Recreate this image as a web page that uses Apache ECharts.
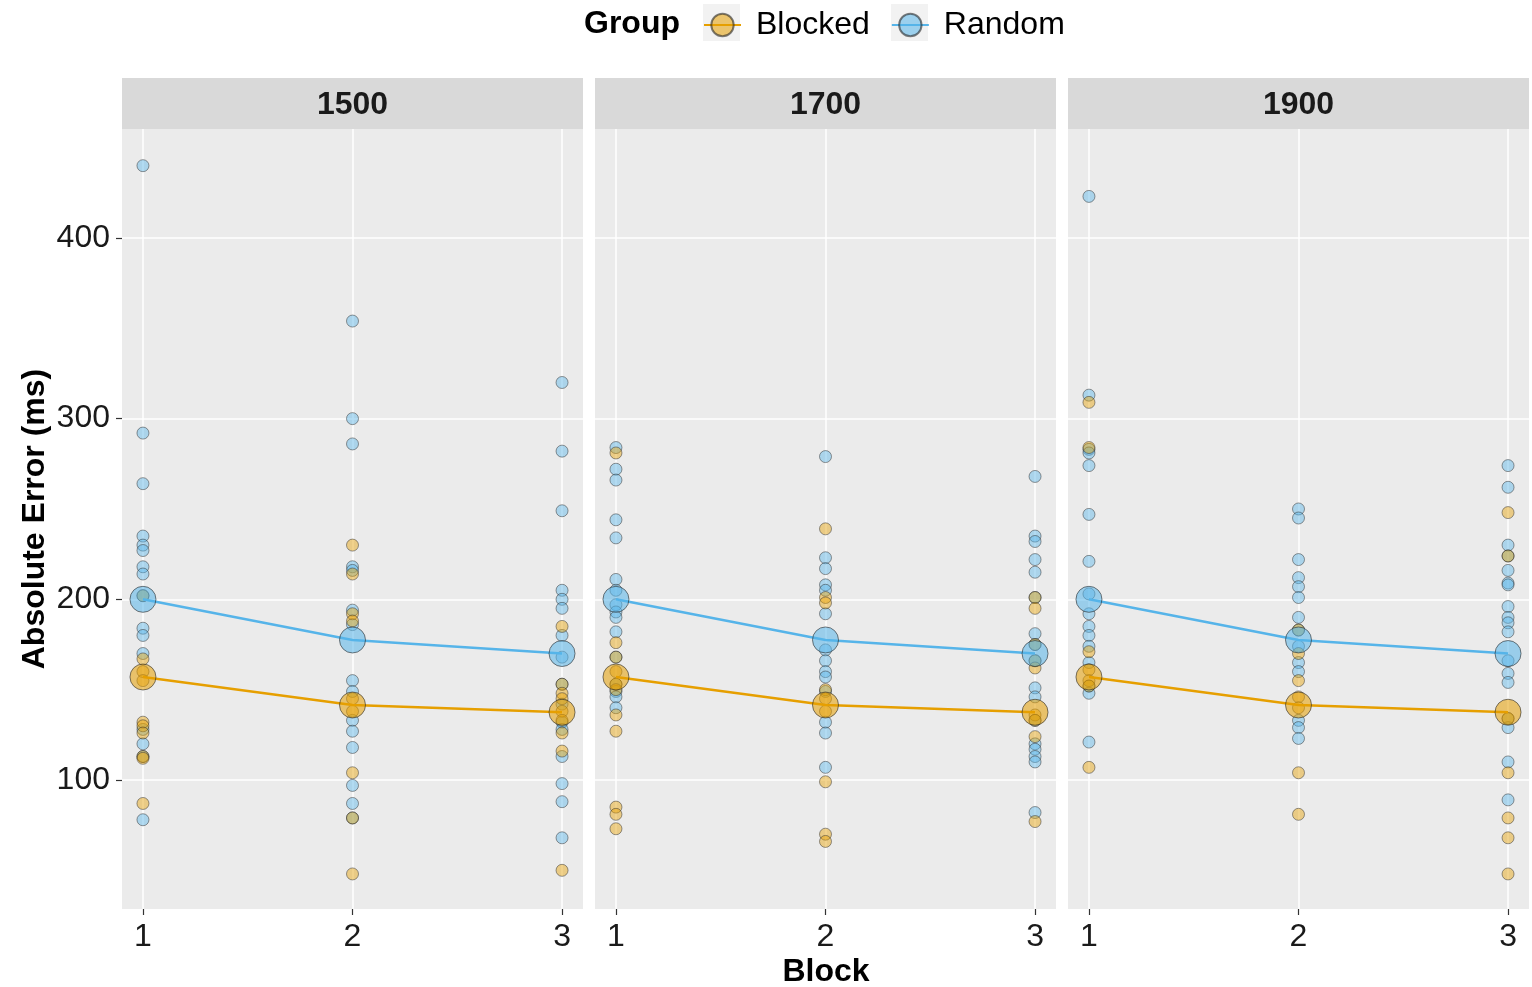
<!DOCTYPE html>
<html>
<head>
<meta charset="utf-8">
<script src="https://cdn.jsdelivr.net/npm/echarts@6/dist/echarts.min.js"></script>
<style>
html,body{margin:0;padding:0;background:#fff;}
#chart{width:1532px;height:987px;}
</style>
</head>
<body>
<div id="chart"></div>
<script>
// ---------- data ----------
const speeds = ['1500', '1700', '1900'];
const blocks = [1, 2, 3];
const yTicks = [100, 200, 300, 400];
const xTicks = [1, 2, 3];
const groups = ['Blocked', 'Random'];

// group means per block (same in each panel)
const meanBlocked = [157, 141.5, 137.5];
const meanRandom = [200, 177.5, 170];

// individual participant values: [block1, block2, block3]
const random1500 = [
  [440, 292, 264, 235, 230, 227, 218, 214, 202, 184, 180, 170, 128, 120, 113, 78],
  [354, 300, 286, 218, 216, 194, 186, 155, 149, 133, 127, 118, 97, 87, 79],
  [320, 282, 249, 205, 200, 195, 180, 168, 153, 142, 132, 128, 113, 98, 88, 68]
];
const blocked1500 = [
  [202, 167, 160, 155, 132, 130, 126, 113, 112, 87],
  [230, 214, 192, 188, 145, 138, 104, 79, 48],
  [185, 153, 148, 145, 138, 133, 126, 116, 50]
];
const random1700 = [
  [284, 272, 266, 244, 234, 211, 205, 197, 193, 190, 182, 168, 153, 149, 146, 140],
  [279, 223, 217, 208, 205, 192, 172, 166, 160, 157, 149, 132, 126, 107],
  [268, 235, 232, 222, 215, 201, 181, 175, 166, 151, 146, 133, 120, 117, 113, 110, 82]
];
const blocked1700 = [
  [281, 176, 168, 160, 153, 150, 136, 127, 85, 81, 73],
  [239, 201, 198, 150, 145, 138, 99, 70, 66],
  [201, 195, 175, 166, 162, 136, 133, 124, 77]
];
const random1900 = [
  [423, 313, 283, 281, 274, 247, 221, 203, 192, 185, 180, 174, 165, 152, 148, 121],
  [250, 245, 222, 212, 207, 201, 190, 183, 174, 165, 160, 133, 129, 123],
  [274, 262, 230, 224, 216, 209, 208, 196, 190, 187, 182, 166, 159, 154, 134, 129, 110, 89]
];
const blocked1900 = [
  [309, 284, 171, 161, 155, 152, 107],
  [183, 170, 155, 146, 140, 104, 81],
  [248, 224, 134, 104, 79, 68, 48]
];

const randomByPanel = [random1500, random1700, random1900];
const blockedByPanel = [blocked1500, blocked1700, blocked1900];

// ---------- styles ----------
const ORANGE = '#E69F00';
const BLUE = '#56B4E9';
const ORANGE_A = 'rgba(230,159,0,0.55)';
const BLUE_A = 'rgba(86,180,233,0.55)';
const EDGE = 'rgba(40,40,40,0.6)';
const FONT = '"Liberation Sans", Arial, sans-serif';
const FS = 32;

const gridLefts = [122, 595, 1068];
const gridW = 461, gridTop = 129, gridH = 780;
const yMin = 28.6, yMax = 460.3;

const chart = echarts.init(document.getElementById('chart'), null, {renderer: 'canvas'});

const grids = [], xAxes = [], yAxes = [], series = [], graphics = [];

function toPoints(arrs) {
  const pts = [];
  arrs.forEach((vals, bi) => vals.forEach(v => pts.push([blocks[bi], v])));
  return pts;
}

speeds.forEach((sp, i) => {
  grids.push({
    left: gridLefts[i], top: gridTop, width: gridW, height: gridH,
    show: true, backgroundColor: '#EBEBEB', borderWidth: 0,
    containLabel: false, outerBoundsMode: 'none'
  });
  xAxes.push({
    type: 'value', gridIndex: i, min: 0.9, max: 3.1,
    axisLine: {show: false},
    axisTick: {show: true, length: 6, lineStyle: {color: '#333', width: 1.2}, customValues: xTicks},
    axisLabel: {show: true, customValues: xTicks, fontSize: FS, color: '#1a1a1a', fontFamily: FONT, margin: 12},
    splitLine: {show: true, lineStyle: {color: '#ffffff', width: 1.5}}
  });
  yAxes.push({
    type: 'value', gridIndex: i, min: yMin, max: yMax,
    axisLine: {show: false},
    axisTick: {show: i === 0, length: 6, lineStyle: {color: '#333', width: 1.2}, customValues: yTicks},
    axisLabel: {show: i === 0, customValues: yTicks, fontSize: FS, color: '#1a1a1a', fontFamily: FONT, margin: 12},
    splitLine: {show: true, lineStyle: {color: '#ffffff', width: 1.5}},
    name: i === 0 ? 'Absolute Error (ms)' : '',
    nameLocation: 'middle', nameRotate: 90, nameGap: 71,
    nameTextStyle: {fontSize: FS, fontWeight: 'bold', color: '#000', fontFamily: FONT}
  });

  // individual points
  series.push({
    name: 'Random pts', type: 'scatter', xAxisIndex: i, yAxisIndex: i,
    data: toPoints(randomByPanel[i]), symbolSize: 12, z: 2,
    itemStyle: {color: BLUE_A, borderColor: EDGE, borderWidth: 1},
    emphasis: {disabled: true}, silent: true
  });
  series.push({
    name: 'Blocked pts', type: 'scatter', xAxisIndex: i, yAxisIndex: i,
    data: toPoints(blockedByPanel[i]), symbolSize: 12, z: 2,
    itemStyle: {color: ORANGE_A, borderColor: EDGE, borderWidth: 1},
    emphasis: {disabled: true}, silent: true
  });
  // mean lines
  series.push({
    name: 'Blocked', type: 'line', xAxisIndex: i, yAxisIndex: i,
    data: blocks.map((b, k) => [b, meanBlocked[k]]),
    symbol: 'circle', symbolSize: 26, z: 3,
    lineStyle: {color: ORANGE, width: 2.5},
    itemStyle: {color: ORANGE_A, borderColor: EDGE, borderWidth: 1},
    emphasis: {disabled: true}, silent: true
  });
  series.push({
    name: 'Random', type: 'line', xAxisIndex: i, yAxisIndex: i,
    data: blocks.map((b, k) => [b, meanRandom[k]]),
    symbol: 'circle', symbolSize: 26, z: 3,
    lineStyle: {color: BLUE, width: 2.5},
    itemStyle: {color: BLUE_A, borderColor: EDGE, borderWidth: 1},
    emphasis: {disabled: true}, silent: true
  });

  // strip header
  graphics.push({
    type: 'rect', left: gridLefts[i], top: 78,
    shape: {width: gridW, height: 51},
    style: {fill: '#D9D9D9'}, silent: true
  });
  graphics.push({
    type: 'text', x: gridLefts[i] + gridW / 2, y: 105,
    style: {text: sp, fill: '#1a1a1a', font: 'bold ' + FS + 'px ' + FONT, align: 'center', verticalAlign: 'middle'},
    silent: true
  });
});

// legend title and key backgrounds
graphics.push({
  type: 'text', x: 584, y: 24,
  style: {text: 'Group', fill: '#000', font: 'bold ' + FS + 'px ' + FONT, align: 'left', verticalAlign: 'middle'},
  silent: true
});
[703, 891].forEach(x => graphics.push({
  type: 'rect', left: x, top: 4, shape: {width: 37, height: 37},
  style: {fill: '#F2F2F2'}, silent: true, z: -1
}));
// x axis title
graphics.push({
  type: 'text', x: 826, y: 972,
  style: {text: 'Block', fill: '#000', font: 'bold ' + FS + 'px ' + FONT, align: 'center', verticalAlign: 'middle'},
  silent: true
});

chart.setOption({
  animation: false,
  backgroundColor: '#ffffff',
  grid: grids,
  xAxis: xAxes,
  yAxis: yAxes,
  legend: {
    data: groups,
    left: 703, top: 9,
    padding: 0,
    itemWidth: 37, itemHeight: 28, itemGap: 21,
    textStyle: {fontSize: FS, color: '#000', fontFamily: FONT, padding: [0, 0, 0, 10]},
    selectedMode: false
  },
  graphic: graphics,
  series: series
});
</script>
</body>
</html>
